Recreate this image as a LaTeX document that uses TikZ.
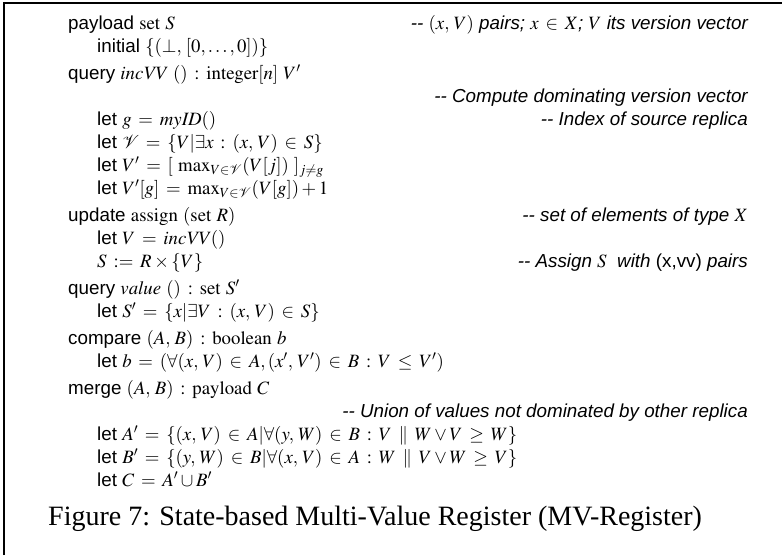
\documentclass[tikz,border=0pt]{standalone}
\usepackage{mathptmx}
\usepackage[no-math]{fontspec}
\setmainfont{Liberation Serif}
\setsansfont{Liberation Sans}
\thickmuskip=6.5mu plus 5mu
\newcommand{\codefont}{\fontsize{18.8}{22}\selectfont\sffamily}
\tikzset{
	codeline/.style={anchor=base west, inner sep=0pt, font=\codefont},
	note/.style={anchor=base east, inner sep=0pt, font=\codefont\itshape},
}
\begin{document}
\begin{tikzpicture}[x=1pt,y=-1pt]
		\useasboundingbox (0,0) rectangle (782,555);
		\draw[line width=1.2pt] (4,555) -- (4,3) -- (782,3);

		\draw
		node[codeline] at (68,29) (pay) {payload $\mathrm{set}\ S$}
		node[note] at (748,29) (payc) {-{}- $(x,\,V)$ pairs; $x\in X$; $V$ its version vector}
		node[codeline] at (97,52) (ini) {initial $\{(\perp,\,[0,\ldots,0])\}$}
		node[codeline] at (68,79) (inc) {query $\mathit{incVV}\ () : \mathrm{integer}[n]\ V'$}
		node[note] at (748,102) (incc) {-{}- Compute dominating version vector}
		node[codeline] at (97,125) (letg) {let $g = \mathit{myID}()$}
		node[note] at (748,125) (letgc) {-{}- Index of source replica}
		node[codeline] at (97,148) (letvv) {let $\mathcal{V} = \{V | \exists x : (x,\,V)\in S\}$}
		node[codeline] at (97,171) (letvp) {let $V' = [\ \max_{V\in\mathcal{V}}(V[j])\ ]_{j\neq g}$}
		node[codeline] at (97,194) (letvg) {let $V'[g] = \max_{V\in\mathcal{V}}(V[g]) + 1$}
		node[codeline] at (68,221) (upd) {update $\mathrm{assign}\ (\mathrm{set}\ R)$}
		node[note] at (748,221) (updc) {-{}- set of elements of type $X$}
		node[codeline] at (97,244) (letv) {let $V = \mathit{incVV}()$}
		node[codeline] at (97,267) (asg) {$S := R\times\{V\}$}
		node[note] at (748,267) (asgc) {-{}- Assign $S$\ \ with {\upshape (x,vv)} pairs}
		node[codeline] at (68,294) (val) {query $\mathit{value}\ () : \mathrm{set}\ S'$}
		node[codeline] at (97,317) (lets) {let $S' = \{x | \exists V : (x,\,V)\in S\}$}
		node[codeline] at (68,344) (cmp) {compare $(A,\,B) : \mathrm{boolean}\ b$}
		node[codeline] at (97,367) (letb) {let $b = (\forall (x,\,V)\in A, (x',\,V')\in B : V\leq V')$}
		node[codeline] at (68,394) (mrg) {merge $(A,\,B) : \mathrm{payload}\ C$}
		node[note] at (748,417) (mrgc) {-{}- Union of values not dominated by other replica}
		node[codeline] at (97,440) (leta) {let $A' = \{(x,\,V)\in A | \forall(y,\,W)\in B : V \parallel W \vee V \geq W\}$}
		node[codeline] at (97,463) (letbp) {let $B' = \{(y,\,W)\in B | \forall(x,\,V)\in A : W \parallel V \vee W \geq V\}$}
		node[codeline] at (97,486) (letc) {let $C = A'\cup B'$}
		node[anchor=base west, inner sep=0pt, font=\fontsize{28}{32}\selectfont] at (48,525) (cap) {Figure 7: State-based Multi-Value Register (MV-Register)};
\end{tikzpicture}
\end{document}
